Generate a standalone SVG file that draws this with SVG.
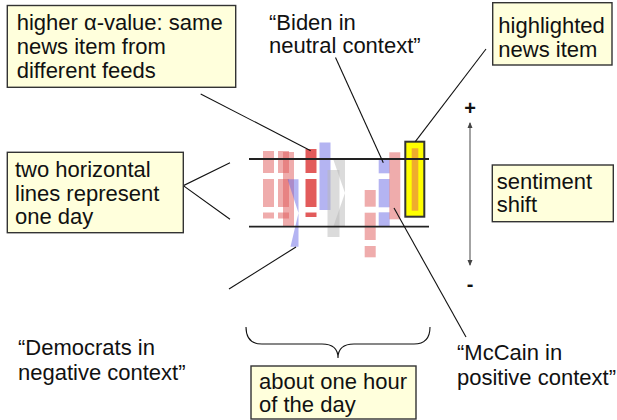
<svg xmlns="http://www.w3.org/2000/svg" width="617" height="420" viewBox="0 0 617 420">
<defs>
<style>
text{font-family:"Liberation Sans",Arial,sans-serif;font-size:22px;fill:#111}
.box{fill:#ffffdc;stroke:#333;stroke-width:1.4}
.pk{fill:#e05a5a;fill-opacity:0.5}
.rd{fill:#e05252;fill-opacity:0.95}
.bl{fill:#6a6ae6;fill-opacity:0.5}
.gy{fill:#b8b8b8;fill-opacity:0.5}
.ln{stroke:#111;stroke-width:1.1;fill:none}
.day{stroke:#222;stroke-width:1.8}
</style>
<marker id="ah" viewBox="0 0 6 6" refX="5" refY="3" markerWidth="5" markerHeight="5" orient="auto-start-reverse">
<path d="M0,0.5 L6,3 L0,5.5 z" fill="#444"/>
</marker>
</defs>
<g id="bars">
<rect class="pk" x="263" y="151" width="11" height="22"/>
<rect class="pk" x="263" y="179" width="11" height="28"/>
<rect class="pk" x="263" y="212.5" width="11" height="6"/>
<rect class="pk" x="278" y="151" width="11" height="22"/>
<rect class="pk" x="278" y="179" width="11" height="28"/>
<rect class="pk" x="278" y="212.5" width="11" height="6"/>
<rect class="pk" x="283" y="152" width="11" height="74"/>
<polygon class="bl" points="287.5,179.3 298.5,179.3 298.5,246.7 290.5,246.7 298.5,213"/>
<rect class="rd" x="305.5" y="149" width="11" height="24"/>
<rect class="rd" x="305.5" y="179" width="11" height="28"/>
<rect class="rd" x="305.5" y="212.5" width="11" height="4.5"/>
<rect class="bl" x="319.5" y="142.5" width="11" height="67.5"/>
<rect class="gy" x="327.5" y="170" width="12" height="67"/>
<polygon class="gy" points="333.3,159.5 345,159.5 345,226.7 333.3,226.7 345,193"/>
<rect class="pk" x="364.7" y="190" width="11" height="16.7"/>
<rect class="pk" x="364.7" y="212.7" width="11" height="27.3"/>
<rect class="pk" x="364.7" y="246" width="11" height="11.3"/>
<rect class="bl" x="378.7" y="158.3" width="11" height="15"/>
<rect class="bl" x="378.7" y="179" width="11" height="28.3"/>
<rect class="bl" x="378.7" y="212.3" width="11" height="13.7"/>
<rect class="pk" x="389.3" y="152.3" width="11" height="67"/>
<rect x="405.3" y="141.7" width="19" height="75" fill="#ffff00" stroke="#333" stroke-width="2"/>
<rect class="pk" x="411.7" y="148.3" width="6.6" height="62.4"/>
</g>
<g id="day-lines">
<line class="day" x1="249" y1="159" x2="429" y2="159"/>
<line class="day" x1="249" y1="226.7" x2="429" y2="226.7"/>
</g>
<g id="connectors">
<line class="ln" x1="200.7" y1="94" x2="310.7" y2="150.7"/>
<line class="ln" x1="335.5" y1="57.5" x2="383.3" y2="162.7"/>
<line class="ln" x1="486" y1="49" x2="415.3" y2="141.7"/>
<line class="ln" x1="296" y1="247" x2="229" y2="289"/>
<line class="ln" x1="394" y1="208" x2="466" y2="337"/>
<polyline class="ln" points="230,162.7 183.3,185.7 230,219.3"/>
<path class="ln" d="M246,327 Q246,344 262,344 L322,344 Q338,344 338,358 Q338,344 354,344 L414,344 Q430,344 430,327"/>
<line x1="470" y1="123" x2="470" y2="265" stroke="#666" stroke-width="1.2" marker-start="url(#ah)" marker-end="url(#ah)"/>
</g>
<g id="alpha-note">
<rect class="box" x="7.3" y="5.5" width="228.4" height="81.8"/>
<text x="16.7" y="30">higher α-value: same</text>
<text x="16.7" y="54">news item from</text>
<text x="16.7" y="78">different feeds</text>
</g>
<g id="biden-note">
<text x="269" y="30">“Biden in</text>
<text x="269" y="53">neutral context”</text>
</g>
<g id="highlight-note">
<rect class="box" x="492.7" y="2.7" width="119.3" height="62.3"/>
<text x="498.3" y="33">highlighted</text>
<text x="498.3" y="56.5">news item</text>
</g>
<g id="day-note">
<rect class="box" x="7.3" y="152.3" width="176" height="80.4"/>
<text x="15" y="177">two horizontal</text>
<text x="15" y="200.5">lines represent</text>
<text x="15" y="224">one day</text>
</g>
<g id="sentiment-note">
<text x="470" y="115" text-anchor="middle" font-weight="bold" style="font-size:20px">+</text>
<text x="470" y="291" text-anchor="middle" font-weight="bold" style="font-size:20px">-</text>
<rect class="box" x="492.3" y="165" width="121" height="56.7"/>
<text x="496.7" y="189">sentiment</text>
<text x="496.7" y="212">shift</text>
</g>
<g id="democrats-note">
<text x="18" y="355">“Democrats in</text>
<text x="18" y="380">negative context”</text>
</g>
<g id="mccain-note">
<text x="457" y="360">“McCain in</text>
<text x="457" y="385">positive context”</text>
</g>
<g id="hour-note">
<rect class="box" x="251" y="366" width="165" height="53"/>
<text x="259" y="389">about one hour</text>
<text x="259" y="412">of the day</text>
</g>
</svg>
